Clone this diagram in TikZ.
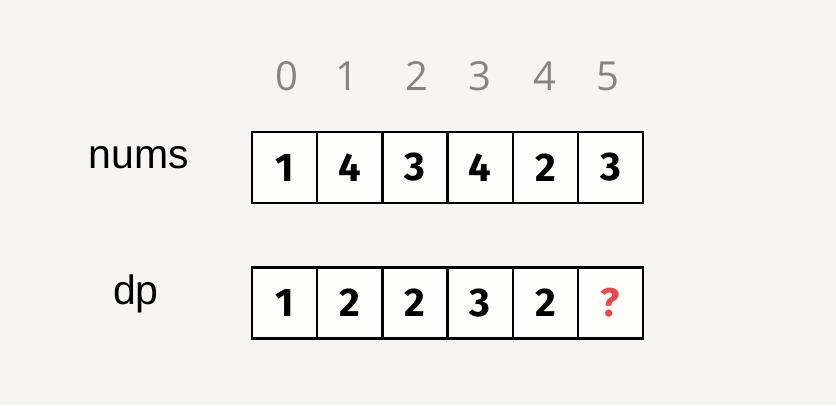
\documentclass[tikz,border=0pt]{standalone}
\usepackage{fontspec}
\setmainfont{Liberation Sans}
\newfontfamily\cellfont{Fira Sans}
\newfontfamily\idxfont{Open Sans}
\definecolor{bg}{HTML}{F6F5F1}
\definecolor{cellbg}{HTML}{FCFCFA}
\definecolor{idxgray}{HTML}{858585}
\definecolor{qred}{HTML}{E5484D}
\tikzset{
  cellbox/.style={draw=black, fill=cellbg, line width=2.4pt, minimum width=65.2pt, minimum height=71pt, inner sep=0pt, font=\cellfont\bfseries\fontsize{40}{40}\selectfont},
  idxlabel/.style={text=idxgray, inner sep=0pt, font=\idxfont\fontsize{40}{40}\selectfont},
  rowlabel/.style={inner sep=0pt, font=\fontsize{41}{41}\selectfont}
}
\begin{document}
\begin{tikzpicture}[x=1pt,y=-1pt]
\fill[bg] (0,0) rectangle (836,405);
\useasboundingbox (0,0) rectangle (836,405);
% indices
\node[idxlabel] (i0) at (287,76) {0};
\node[idxlabel] (i1) at (347,76) {1};
\node[idxlabel] (i2) at (417,76) {2};
\node[idxlabel] (i3) at (480,76) {3};
\node[idxlabel] (i4) at (545,76) {4};
\node[idxlabel] (i5) at (608,76) {5};
% row labels
\node[rowlabel] (lnums) at (139,158) {nums};
\node[rowlabel] (ldp) at (136,294) {dp};
% nums row
\node[cellbox] (n0) at (284.6,167.5) {1};
\node[cellbox] (n1) at (349.8,167.5) {4};
\node[cellbox] (n2) at (415.0,167.5) {3};
\node[cellbox] (n3) at (480.2,167.5) {4};
\node[cellbox] (n4) at (545.4,167.5) {2};
\node[cellbox] (n5) at (610.6,167.5) {3};
% dp row
\node[cellbox] (d0) at (284.6,303) {1};
\node[cellbox] (d1) at (349.8,303) {2};
\node[cellbox] (d2) at (415.0,303) {2};
\node[cellbox] (d3) at (480.2,303) {3};
\node[cellbox] (d4) at (545.4,303) {2};
\node[cellbox, text=qred] (d5) at (610.6,303) {?};
\end{tikzpicture}
\end{document}
